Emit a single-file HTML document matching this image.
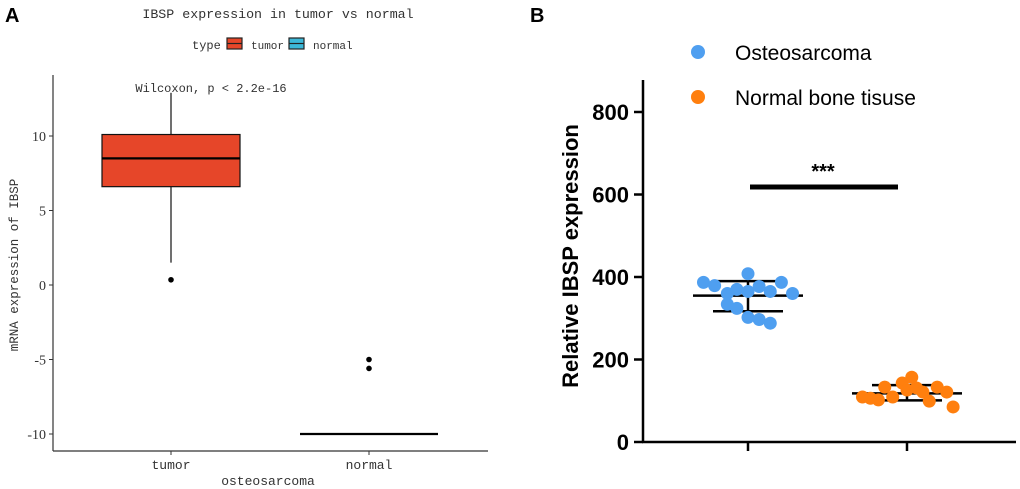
<!DOCTYPE html>
<html><head><meta charset="utf-8"><style>
body{margin:0;background:#fff;width:1020px;height:489px;overflow:hidden}
svg{display:block}
.m{font-family:"Liberation Mono",monospace;fill:#333}
.s{font-family:"Liberation Serif",serif;fill:#333}
.b{font-family:"Liberation Sans",sans-serif;font-weight:bold;fill:#000}
</style></head><body>
<svg id="c" width="1020" height="489"></svg>
<script>
// Panel A data
const aCats=["tumor","normal"];
const aTicks=[10,5,0,-5,-10];
const tumorBox={lo:1.5,q1:6.6,med:8.5,q3:10.1,hi:12.9};
const tumorOut=[0.35];
const normalBox={lo:-10,q1:-10,med:-10,q3:-10,hi:-10};
const normalOut=[-5,-5.6];
// Panel B data
const bCats=["Osteosarcoma","Normal bone tisuse"];
const bTicks=[0,200,400,600,800];
const osteoVals=[387,379,408,387,360,370,365,377,365,360,334,324,302,297,288];
const osteoJit=[-0.28,-0.21,0,0.21,-0.13,-0.07,0,0.07,0.14,0.28,-0.13,-0.07,0,0.07,0.14];
const osteoStats={mean:355,sdLo:317,sdHi:390};
const normVals=[109,106,102,133,109,143,157,126,131,121,99,133,121,85];
const normJit=[-0.28,-0.23,-0.18,-0.14,-0.09,-0.03,0.03,0,0.06,0.10,0.14,0.19,0.25,0.29];
const normStats={mean:118,sdLo:101,sdHi:138};

const S=document.getElementById('c');const NS="http://www.w3.org/2000/svg";
function el(t,a,txt){const e=document.createElementNS(NS,t);for(const k in a)e.setAttribute(k,a[k]);if(txt!=null)e.textContent=txt;S.appendChild(e);return e;}
// ---- Panel A
const ay=v=>285-v*14.9;const ax=i=>171+i*198;
let e;
e=el('text',{x:5,y:22,class:'b','font-size':20},'A');
e=el('text',{x:278,y:18,class:'m','font-size':13.3,'text-anchor':'middle'},'IBSP expression in tumor vs normal');
e=el('text',{x:192,y:49,class:'m','font-size':12},'type');
e=el('rect',{x:227,y:38,width:15,height:11,fill:'#e64629',stroke:'#222','stroke-width':1.2});
el('line',{x1:227,y1:43.5,x2:242,y2:43.5,stroke:'#222','stroke-width':1.2});
e=el('text',{x:251,y:49,class:'m','font-size':11},'tumor');
e=el('rect',{x:289,y:38,width:15,height:11,fill:'#3cb8d8',stroke:'#222','stroke-width':1.2});
el('line',{x1:289,y1:43.5,x2:304,y2:43.5,stroke:'#222','stroke-width':1.2});
e=el('text',{x:313,y:49,class:'m','font-size':11},'normal');
e=el('line',{x1:53,y1:75,x2:53,y2:451,stroke:'#333','stroke-width':1.2});
e=el('line',{x1:53,y1:451,x2:488,y2:451,stroke:'#333','stroke-width':1.2});
aTicks.forEach(t=>{el('line',{x1:49,x2:53,y1:ay(t),y2:ay(t),stroke:'#333'});e=el('text',{x:46,y:ay(t)+5,class:'s','font-size':14,'text-anchor':'end'},t);});
aCats.forEach((c,i)=>{el('line',{x1:ax(i),x2:ax(i),y1:451,y2:455,stroke:'#333'});e=el('text',{x:ax(i),y:469,class:'m','font-size':13,'text-anchor':'middle'},c);});
e=el('text',{x:268,y:485,class:'m','font-size':13,'text-anchor':'middle'},'osteosarcoma');
e=el('text',{x:0,y:0,class:'m','font-size':12.5,'text-anchor':'middle',transform:'translate(18,265) rotate(-90)'},'mRNA expression of IBSP');
e=el('text',{x:211,y:92,class:'m','font-size':12,'text-anchor':'middle'},'Wilcoxon, p < 2.2e-16');
function box(i,b,fill,name){const x=ax(i),w=69;
 el('line',{x1:x,x2:x,y1:ay(b.hi),y2:ay(b.q3),stroke:'#111','stroke-width':1.2});
 el('line',{x1:x,x2:x,y1:ay(b.q1),y2:ay(b.lo),stroke:'#111','stroke-width':1.2});
 const h=Math.max(ay(b.q1)-ay(b.q3),0);
 const r=el('rect',{x:x-w,y:ay(b.q3),width:2*w,height:h,fill:fill,stroke:'#111','stroke-width':1.2});
 el('line',{x1:x-w,x2:x+w,y1:ay(b.med),y2:ay(b.med),stroke:'#000','stroke-width':2.2});}
box(0,tumorBox,'#e64629','tumor-box');box(1,normalBox,'#3cb8d8','normal-box');
tumorOut.forEach(v=>{e=el('circle',{cx:ax(0),cy:ay(v),r:2.8,fill:'#000'});});
normalOut.forEach(v=>{e=el('circle',{cx:ax(1),cy:ay(v),r:2.8,fill:'#000'});});
// ---- Panel B
const by=v=>442-v*0.4125;const bx=i=>748+i*159;
e=el('text',{x:530,y:22,class:'b','font-size':20},'B');
e=el('circle',{cx:698,cy:52,r:7,fill:'#4f9ff0'});
e=el('text',{x:735,y:60,'font-family':'Liberation Sans,sans-serif','font-size':21},bCats[0]);
e=el('circle',{cx:698,cy:97,r:7,fill:'#ff7f0e'});
e=el('text',{x:735,y:105,'font-family':'Liberation Sans,sans-serif','font-size':21},bCats[1]);
e=el('line',{x1:643,y1:80,x2:643,y2:443,stroke:'#000','stroke-width':2.5});
e=el('line',{x1:642,y1:442,x2:1016,y2:442,stroke:'#000','stroke-width':2.5});
bTicks.forEach(t=>{el('line',{x1:634,x2:643,y1:by(t),y2:by(t),stroke:'#000','stroke-width':2.5});e=el('text',{x:629,y:by(t)+8,class:'b','font-size':22,'text-anchor':'end'},t);});
bCats.forEach((c,i)=>el('line',{x1:bx(i),x2:bx(i),y1:442,y2:451,stroke:'#000','stroke-width':2.5}));
e=el('text',{x:0,y:0,class:'b','font-size':22,'text-anchor':'middle',transform:'translate(578,256) rotate(-90)'},'Relative IBSP expression');
function stats(i,s){const x=bx(i);
 el('line',{x1:x-35,x2:x+35,y1:by(s.sdHi),y2:by(s.sdHi),stroke:'#000','stroke-width':2.5});
 el('line',{x1:x-35,x2:x+35,y1:by(s.sdLo),y2:by(s.sdLo),stroke:'#000','stroke-width':2.5});
 el('line',{x1:x,x2:x,y1:by(s.sdHi),y2:by(s.sdLo),stroke:'#000','stroke-width':2.5});
 el('line',{x1:x-55,x2:x+55,y1:by(s.mean),y2:by(s.mean),stroke:'#000','stroke-width':2.5});}
stats(0,osteoStats);stats(1,normStats);
osteoVals.forEach((v,k)=>{const c=el('circle',{cx:bx(0)+osteoJit[k]*159,cy:by(v),r:6.5,fill:'#4f9ff0'});});
normVals.forEach((v,k)=>{const c=el('circle',{cx:bx(1)+normJit[k]*159,cy:by(v),r:6.5,fill:'#ff7f0e'});});
e=el('line',{x1:750,x2:898,y1:187,y2:187,stroke:'#000','stroke-width':5});
e=el('text',{x:823,y:178,class:'b','font-size':20,'text-anchor':'middle'},'***');
</script>
</body></html>
